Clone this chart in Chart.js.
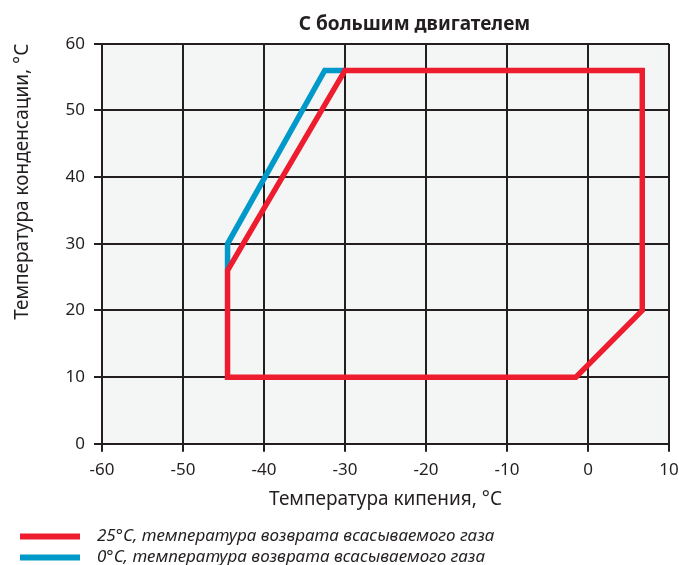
<!DOCTYPE html>
<html>
<head>
<meta charset="utf-8">
<script src="https://cdn.jsdelivr.net/npm/chart.js@4"></script>
<style>
  html, body { margin: 0; padding: 0; background: #fff; }
  #wrap { width: 679px; height: 565px; }
</style>
</head>
<body>
<div id="wrap"><canvas id="envelope"></canvas></div>
<script>
// границы рабочей области (°C)
const redX = [-44.5, -1.5, 6.7, 6.7, -30, -44.5, -44.5];
const redY = [10, 10, 20, 56, 56, 26, 10];
const blueX = [-44.5, -44.5, -32.5, -30];
const blueY = [26, 30, 56, 56];

const xTicks = [-60, -50, -40, -30, -20, -10, 0, 10];
const yTicks = [0, 10, 20, 30, 40, 50, 60];

const labelRed = '25°C, температура возврата всасываемого газа';
const labelBlue = '0°C, температура возврата всасываемого газа';

const FONT = '"Noto Sans", sans-serif';
const INK = '#231f20';

const toPoints = (xs, ys) => xs.map((x, i) => ({ x: x, y: ys[i] }));

// серый фон области графика
const plotBg = {
    id: 'plotBg',
    beforeDraw(chart) {
        const a = chart.chartArea;
        const ctx = chart.ctx;
        ctx.save();
        ctx.fillStyle = '#f4f5f5';
        ctx.fillRect(a.left, a.top, a.right - a.left, a.bottom - a.top);
        ctx.restore();
    }
};

// заголовок и легенда сдвинуты, как в оригинале
const nudge = {
    id: 'nudge',
    afterLayout(chart) {
        chart.titleBlock.left += 70;
        chart.titleBlock.right += 70;
        chart.titleBlock.top += 1;
        chart.titleBlock.bottom += 1;
        chart.legend.left += 6;
        chart.legend.right += 6;
        chart.legend.top += 11;
        chart.legend.bottom += 11;
    }
};

new Chart(document.getElementById('envelope'), {
    type: 'scatter',
    data: {
        datasets: [{
            label: labelRed,
            data: toPoints(redX, redY),
            showLine: true,
            borderColor: '#ed1c2e',
            backgroundColor: '#ed1c2e',
            borderWidth: 5.5,
            borderJoinStyle: 'miter',
            borderCapStyle: 'square',
            pointRadius: 0,
            order: 0
        }, {
            label: labelBlue,
            data: toPoints(blueX, blueY),
            showLine: true,
            borderColor: '#0099c9',
            backgroundColor: '#0099c9',
            borderWidth: 5.5,
            borderJoinStyle: 'miter',
            pointRadius: 0,
            order: 1
        }]
    },
    options: {
        responsive: true,
        maintainAspectRatio: false,
        animation: false,
        layout: { padding: { left: 10, right: 0, top: 0, bottom: 0 } },
        plugins: {
            title: {
                display: true,
                text: 'С большим двигателем',
                color: INK,
                font: { family: FONT, size: 19, weight: 'bold' },
                padding: { top: 12, bottom: 9 },
                align: 'center'
            },
            legend: {
                position: 'bottom',
                align: 'start',
                labels: {
                    color: INK,
                    boxWidth: 60,
                    boxHeight: 6,
                    padding: 4,
                    font: { family: FONT, size: 17, style: 'italic' },
                    generateLabels(chart) {
                        return chart.data.datasets.map((ds, i) => ({
                            text: '\u2002' + ds.label,
                            fillStyle: ds.borderColor,
                            strokeStyle: ds.borderColor,
                            lineWidth: 0,
                            fontColor: INK,
                            datasetIndex: i
                        }));
                    }
                }
            },
            tooltip: { enabled: false }
        },
        scales: {
            x: {
                type: 'linear',
                min: -60,
                max: 10,
                afterBuildTicks(scale) { scale.ticks = xTicks.map(v => ({ value: v })); },
                afterFit(scale) { scale.paddingRight = 10; },
                grid: { color: INK, lineWidth: 2, tickLength: 8, tickColor: INK },
                border: { color: INK, width: 2 },
                ticks: { color: INK, font: { family: FONT, size: 17 }, padding: 8 },
                title: {
                    display: true,
                    text: 'Температура кипения, °C',
                    color: INK,
                    font: { family: FONT, size: 19 },
                    padding: { top: 0, bottom: 2 }
                }
            },
            y: {
                type: 'linear',
                min: 0,
                max: 60,
                afterBuildTicks(scale) { scale.ticks = yTicks.map(v => ({ value: v })); },
                afterFit(scale) { scale.width = 92; },
                grid: { color: INK, lineWidth: 2, tickLength: 8, tickColor: INK },
                border: { color: INK, width: 2 },
                ticks: { color: INK, font: { family: FONT, size: 17 }, padding: 9 },
                title: {
                    display: true,
                    text: 'Температура конденсации, °C',
                    align: 'end',
                    color: INK,
                    font: { family: FONT, size: 19 },
                    padding: { top: 1, bottom: 20 }
                }
            }
        }
    },
    plugins: [plotBg, nudge]
});
</script>
</body>
</html>
